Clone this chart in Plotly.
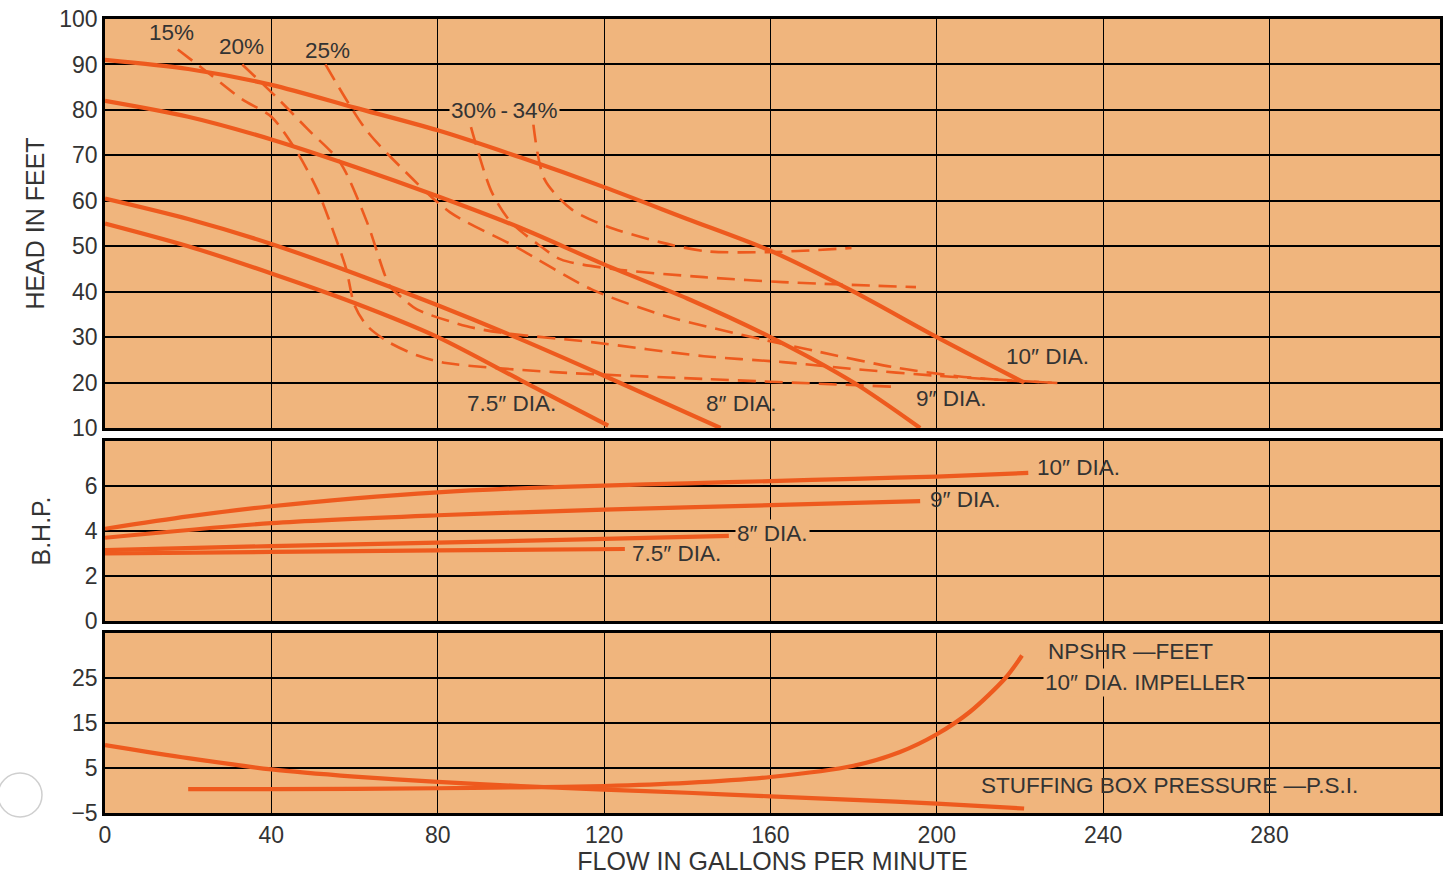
import plotly.graph_objects as go

# ---- Head vs. flow, by impeller diameter (solid) ----
head_10_q = [0, 20, 40, 60, 80, 100, 120, 140, 160, 180, 200, 221]
head_10_h = [91, 89, 85.5, 80.5, 75.5, 69.5, 63, 56, 49, 40, 30, 20]
head_9_q = [0, 20, 40, 60, 80, 100, 120, 140, 160, 180, 196]
head_9_h = [82, 78.5, 73.5, 67.5, 61, 54, 46, 38.5, 30, 20, 10]
head_8_q = [0, 20, 40, 60, 80, 100, 120, 148]
head_8_h = [60.5, 56, 50.5, 44, 37, 29.5, 21.5, 10]
head_75_q = [0, 20, 40, 60, 80, 100, 121]
head_75_h = [55, 50, 44, 37.5, 30, 20.5, 10.5]

# ---- Efficiency contours (dashed) ----
eff_15_q = [17.5, 25, 33, 40, 46, 51, 55, 58, 60, 63, 68, 75, 82, 108, 144, 189]
eff_15_h = [93.3, 88, 82.3, 78.5, 71, 62.5, 53, 45, 37, 32.5, 29, 26, 24.3, 22.3, 20.8, 19.1]
eff_20_q = [33, 41, 48.8, 56.5, 63, 68.5, 71, 75, 87, 95, 117, 144, 163, 181, 200, 215, 229]
eff_20_h = [90, 83, 75.7, 68.5, 55.3, 41.2, 39, 36.1, 32.4, 31, 28.9, 25.8, 24.5, 22.9, 21.5, 20.6, 19.9]
eff_25_q = [53, 62.7, 70.9, 82.9, 98.5, 117, 135, 158, 172, 190, 205, 215, 229]
eff_25_h = [90, 75.7, 67.6, 57.5, 50, 40.5, 34.6, 29.5, 26.7, 23.3, 21.4, 20.6, 19.9]
eff_30_q = [88, 93, 97.6, 104, 109.6, 122, 144, 163, 195]
eff_30_h = [76.2, 61.9, 55.3, 50.5, 47.1, 45, 43.2, 42.1, 41]
eff_34_q = [103, 105.7, 112.2, 120.6, 133.4, 144.4, 159.6, 179.5]
eff_34_h = [76.8, 64.7, 58.1, 54.4, 50.9, 48.9, 48.7, 49.6]

# ---- Brake horsepower ----
bhp_10_q = [0, 20, 40, 60, 80, 100, 120, 140, 160, 180, 200, 222]
bhp_10 = [4.1, 4.65, 5.1, 5.45, 5.72, 5.9, 6.02, 6.12, 6.22, 6.32, 6.42, 6.58]
bhp_9_q = [0, 40, 80, 120, 160, 196]
bhp_9 = [3.7, 4.35, 4.7, 4.95, 5.15, 5.33]
bhp_8_q = [0, 40, 80, 120, 150]
bhp_8 = [3.15, 3.33, 3.48, 3.65, 3.78]
bhp_75_q = [0, 40, 80, 125]
bhp_75 = [3.0, 3.07, 3.14, 3.2]

# ---- NPSHR and stuffing box pressure ----
npshr_q = [20, 40, 80, 100, 120, 140, 160, 180, 191, 200, 208, 216.5, 220.5]
npshr = [0.3, 0.3, 0.5, 0.7, 1.0, 1.7, 3.0, 5.5, 8.5, 12.5, 17.5, 25, 30]
sbp_q = [0, 20, 40, 60, 80, 100, 120, 140, 160, 180, 200, 221]
sbp = [10.1, 7.2, 4.7, 3.1, 1.9, 1.0, 0.2, -0.5, -1.3, -2.1, -2.9, -4.0]

flow_ticks = [0, 40, 80, 120, 160, 200, 240, 280]
head_ticks = [10, 20, 30, 40, 50, 60, 70, 80, 90, 100]
bhp_ticks = [0, 2, 4, 6]
low_ticks = [-5, 5, 15, 25]
low_tick_text = ["\u22125", "5", "15", "25"]

CURVE = "#EE5A1E"
PANEL = "#F0B57D"
INK = "#333333"
FONT = "Liberation Sans"
TICK_SIZE = 23
LABEL_SIZE = 22.5
TITLE_SIZE = 25

fig = go.Figure()


def solid(q, v, xa, ya, w=4.2):
    fig.add_trace(go.Scatter(x=q, y=v, xaxis=xa, yaxis=ya, mode="lines",
                             line=dict(color=CURVE, width=w, shape="spline", smoothing=0.8),
                             hoverinfo="skip", showlegend=False))


def dashed(q, v):
    fig.add_trace(go.Scatter(x=q, y=v, xaxis="x", yaxis="y", mode="lines",
                             line=dict(color=CURVE, width=2.6, dash="18px,9px",
                                       shape="spline", smoothing=0.8),
                             hoverinfo="skip", showlegend=False))


for q, h in [(eff_15_q, eff_15_h), (eff_20_q, eff_20_h), (eff_25_q, eff_25_h),
             (eff_30_q, eff_30_h), (eff_34_q, eff_34_h)]:
    dashed(q, h)

for q, h in [(head_10_q, head_10_h), (head_9_q, head_9_h),
             (head_8_q, head_8_h), (head_75_q, head_75_h)]:
    solid(q, h, "x", "y")

for q, b in [(bhp_10_q, bhp_10), (bhp_9_q, bhp_9), (bhp_8_q, bhp_8), (bhp_75_q, bhp_75)]:
    solid(q, b, "x2", "y2")

solid(npshr_q, npshr, "x3", "y3")
solid(sbp_q, sbp, "x3", "y3")

X_RANGE = [0, 321]
grid_x = dict(range=X_RANGE, tickvals=flow_ticks, showgrid=True, gridcolor="black",
              gridwidth=1.2, zeroline=False, showline=True, mirror=True,
              linecolor="black", linewidth=2.5, ticks="", fixedrange=True,
              automargin=False)
grid_y = dict(showgrid=True, gridcolor="black", gridwidth=1.8, zeroline=False,
              showline=True, mirror=True, linecolor="black", linewidth=2.5,
              ticks="", tickfont=dict(family=FONT, size=TICK_SIZE, color=INK),
              fixedrange=True, automargin=False)

fig.update_layout(
    width=1454, height=875,
    margin=dict(l=105, r=14, t=19, b=62, autoexpand=False),
    paper_bgcolor="white", plot_bgcolor=PANEL,
    font=dict(family=FONT, color=INK),
    xaxis=dict(**grid_x, domain=[0, 1], anchor="y", showticklabels=False),
    xaxis2=dict(**grid_x, domain=[0, 1], anchor="y2", showticklabels=False),
    xaxis3=dict(**grid_x, domain=[0, 1], anchor="y3", showticklabels=True,
                tickfont=dict(family=FONT, size=TICK_SIZE, color=INK),
                title=dict(text="FLOW IN GALLONS PER MINUTE", standoff=6,
                           font=dict(family=FONT, size=TITLE_SIZE, color=INK))),
    yaxis=dict(**grid_y, domain=[0.4849, 1], range=[10, 100], tickvals=head_ticks,
               title=dict(text="HEAD IN FEET", standoff=8,
                          font=dict(family=FONT, size=TITLE_SIZE, color=INK))),
    yaxis2=dict(**grid_y, domain=[0.2418, 0.4685], range=[0, 8], tickvals=bhp_ticks,
                title=dict(text="B.H.P.", standoff=28,
                           font=dict(family=FONT, size=TITLE_SIZE, color=INK))),
    yaxis3=dict(**grid_y, domain=[0, 0.2267], range=[-5, 35], tickvals=low_ticks,
                ticktext=low_tick_text),
)


def label(text, x, y, xa, ya, bg=None, anchor="center"):
    fig.add_annotation(text=text, x=x, y=y, xref=xa, yref=ya, showarrow=False,
                       xanchor=anchor, yanchor="middle",
                       font=dict(family=FONT, size=LABEL_SIZE, color=INK),
                       bgcolor=bg, borderpad=1)


label("15%", 16.1, 97.0, "x", "y")
label("20%", 32.9, 94.0, "x", "y")
label("25%", 53.4, 93.0, "x", "y")
label("30%\u2009-\u200934%", 96.1, 79.9, "x", "y", bg=PANEL)
label("10\u2033 DIA.", 226.6, 25.8, "x", "y")
label("9\u2033 DIA.", 203.5, 16.4, "x", "y")
label("8\u2033 DIA.", 153.0, 15.5, "x", "y")
label("7.5\u2033 DIA.", 97.8, 15.5, "x", "y")

label("10\u2033 DIA.", 234.0, 6.84, "x2", "y2")
label("9\u2033 DIA.", 207.0, 5.42, "x2", "y2")
label("8\u2033 DIA.", 160.5, 3.87, "x2", "y2", bg=PANEL)
label("7.5\u2033 DIA.", 137.5, 2.98, "x2", "y2")

label("NPSHR \u2014FEET", 226.3, 30.9, "x3", "y3", anchor="left")
label("10\u2033 DIA. IMPELLER", 225.6, 24.1, "x3", "y3", bg=PANEL, anchor="left")
label("STUFFING BOX PRESSURE \u2014P.S.I.", 256.0, 1.2, "x3", "y3")

# binder-hole ring in the left margin of the sheet
fig.add_shape(type="circle", xref="paper", yref="paper",
              x0=-0.0801, x1=-0.0472, y0=-0.005, y1=0.0504,
              line=dict(color="#CFCFCF", width=1.5), fillcolor="white", layer="above")

fig.write_html("out.html", config={"displayModeBar": False})
